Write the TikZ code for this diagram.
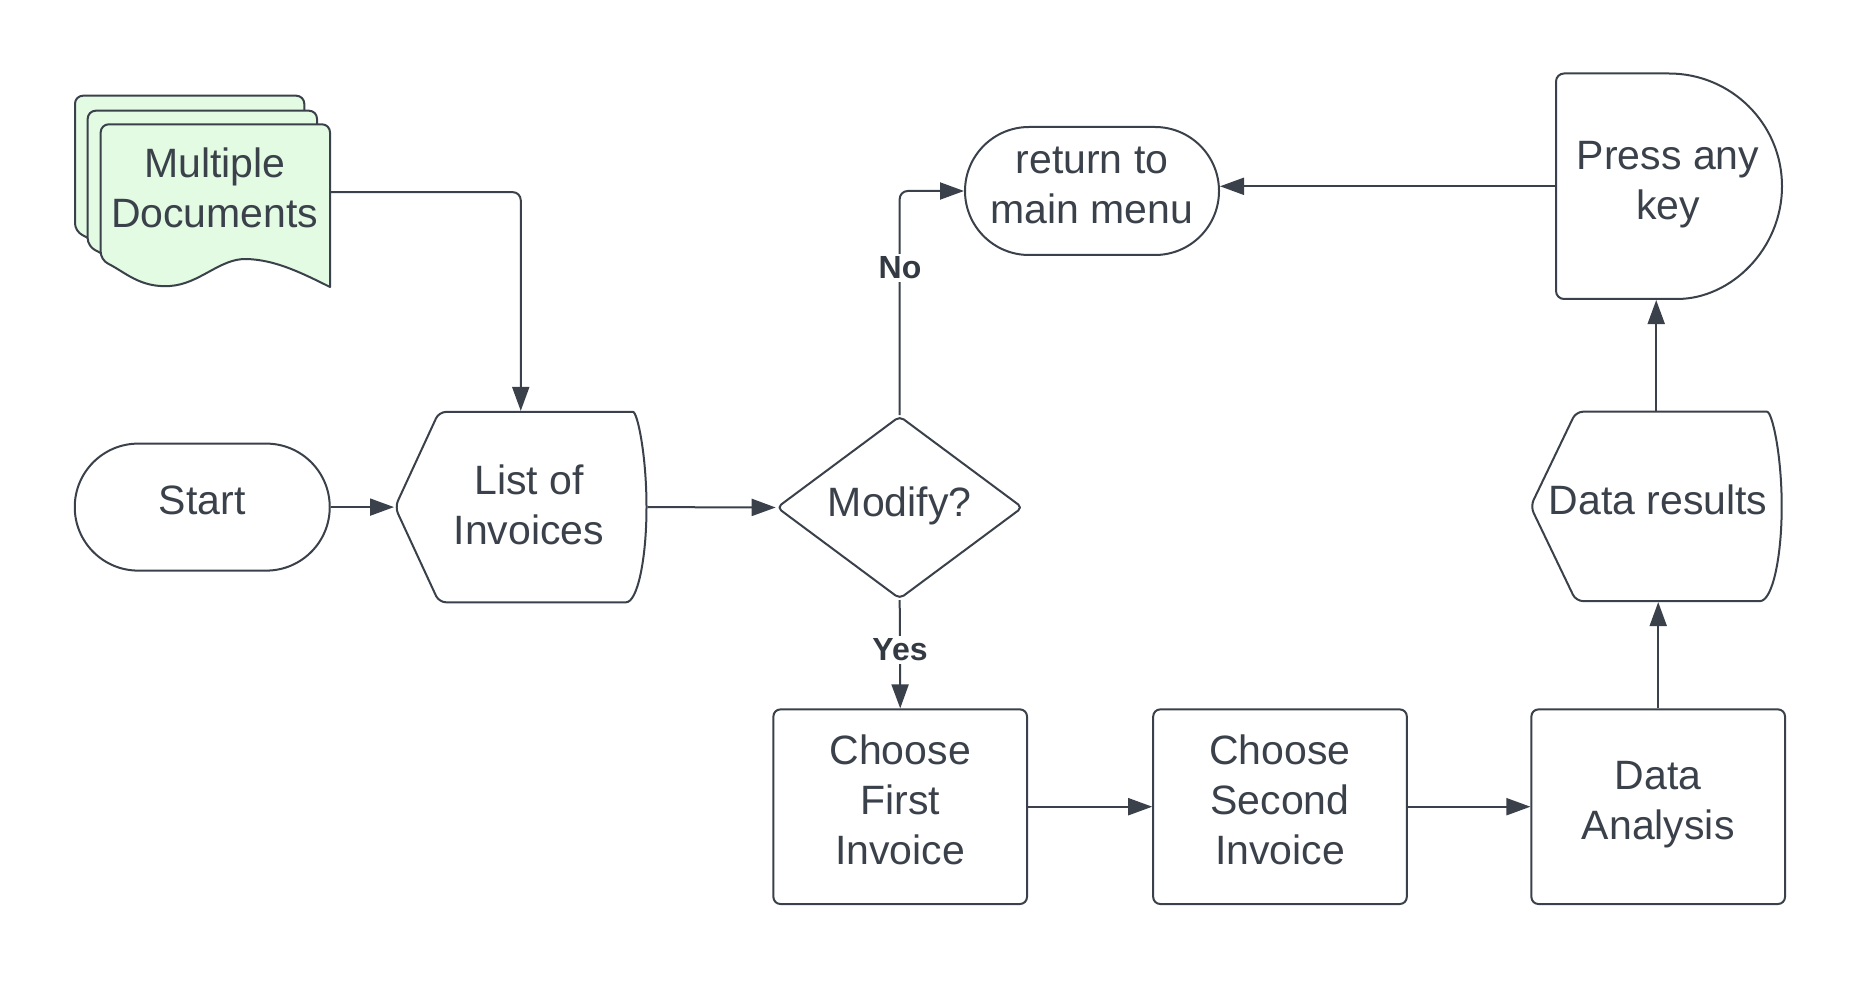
\documentclass[tikz,border=0pt]{standalone}
\usepackage{fontspec}
\setmainfont{Liberation Sans}
\usetikzlibrary{arrows.meta,shapes.geometric,shapes.misc}
\definecolor{ink}{HTML}{3A414A}
\definecolor{docfill}{HTML}{E3FAE3}
\newcommand\lstrut{\rule[-17.3pt]{0pt}{50pt}}
\begin{document}
\begin{tikzpicture}[x=1pt,y=-1pt,line width=2pt,color=ink,line join=round,
  base/.style={font=\fontsize{41pt}{50pt}\selectfont,align=center,text=ink,inner sep=0pt},
  procbox/.style={base,draw,rectangle,rounded corners=7pt,minimum width=253.6pt,minimum height=194.6pt},
  term/.style={base,draw,rounded rectangle},
  frame/.style={inner sep=0pt,rectangle},
  lbl/.style={font=\fontsize{32pt}{38pt}\selectfont\bfseries,fill=white,inner sep=3pt,text=ink!90!black},
  arr/.style={-{Triangle[length=24pt,width=17pt]}}]
\useasboundingbox (0,0) rectangle (1860,981);
\fill[white] (0,0) rectangle (1860,981);

% Multiple documents
\foreach \dx/\dy in {-25.7/-28.6,-13/-13.6,0/0}{
  \begin{scope}[shift={(\dx,\dy)}]
  \filldraw[fill=docfill,rounded corners=8pt] (215,124.3) -- (100.7,124.3) -- (100.7,260) [sharp corners]
    .. controls (125,272) and (140,288) .. (170,286)
    .. controls (200,284) and (220,258) .. (247,259)
    .. controls (275,260) and (300,272) .. (330,287) [rounded corners=8pt] -- (330,124.3) -- cycle;
  \end{scope}}
\node[frame,minimum width=229.3pt,minimum height=136pt] (docs) at (215.35,192.15) {};
\node[base] (docstext) at (214.7,194.4) {Multiple\lstrut\\Documents\lstrut};

% Start
\node[term,minimum width=255pt,minimum height=127pt] (start) at (202.25,507.1) {Start\lstrut};

% List of Invoices (display)
\node[frame,minimum width=251.5pt,minimum height=190.4pt] (list) at (520.75,507.1) {};
\draw[rounded corners=7pt] (530,602.3) -- (439,602.3) -- (395,507.1) -- (439,411.9) -- (626,411.9) [sharp corners]
  .. controls (637.3,411.9) and (646.5,454.5) .. (646.5,507.1)
  .. controls (646.5,559.7) and (637.3,602.3) .. (626,602.3) -- cycle;
\node[base] (listtext) at (529,511.5) {List of\lstrut\\Invoices\lstrut};

% Modify decision
\node[draw,diamond,inner sep=0pt,minimum width=246pt,minimum height=183pt,rounded corners=5pt] (mod) at (899.7,507.5) {};
\node[base] (modtext) at (899.7,508.8) {Modify?\lstrut};

% return to main menu
\node[term,minimum width=254pt,minimum height=128pt] (ret) at (1092,191) {return to\lstrut\\main menu\lstrut};

% Press any key (delay)
\node[frame,minimum width=226pt,minimum height=225.5pt] (pk) at (1669,186.3) {};
\draw[rounded corners=8pt] (1669,73.5) -- (1556,73.5) -- (1556,299) -- (1669,299) [sharp corners]
  .. controls (1731.3,299) and (1782,248.6) .. (1782,186.3)
  .. controls (1782,124) and (1731.3,73.5) .. (1669,73.5) -- cycle;
\node[base] (pktext) at (1668,187.3) {Press any\lstrut\\key\lstrut};

% Data results (display)
\node[frame,minimum width=251.5pt,minimum height=189.4pt] (dr) at (1656.2,506.4) {};
\draw[rounded corners=7pt] (1660,601.1) -- (1576,601.1) -- (1530.5,506.4) -- (1576,411.7) -- (1760,411.7) [sharp corners]
  .. controls (1772,411.7) and (1781.7,454) .. (1781.7,506.4)
  .. controls (1781.7,558.8) and (1772,601.1) .. (1760,601.1) -- cycle;
\node[base] (drtext) at (1658,507) {Data results\lstrut};

% Process boxes
\node[procbox] (first) at (900.2,806.7) {Choose\lstrut\\First\lstrut\\Invoice\lstrut};
\node[procbox] (second) at (1280,806.7) {Choose\lstrut\\Second\lstrut\\Invoice\lstrut};
\node[procbox] (an) at (1658.2,806.7) {Data\lstrut\\Analysis\lstrut};

% Connectors
\draw[arr,rounded corners=8pt] (docs.east) -| (list.north);
\draw[arr] (start.east) -- (list.west);
\draw[arr] (list.east) -- (mod.west);
\draw[arr,rounded corners=8pt] (mod.north) |- (ret.west);
\node[lbl] (no) at (900,268) {No};
\draw[arr] (mod.south) -- (first.north);
\node[lbl] (yes) at (900,650) {Yes};
\draw[arr] (first.east) -- (second.west);
\draw[arr] (second.east) -- (an.west);
\draw[arr] (an.north) -- (an.north |- dr.south);
\draw[arr] (dr.north) -- (dr.north |- pk.south);
\draw[arr] (pk.west) -- (pk.west -| ret.east);
\end{tikzpicture}
\end{document}
